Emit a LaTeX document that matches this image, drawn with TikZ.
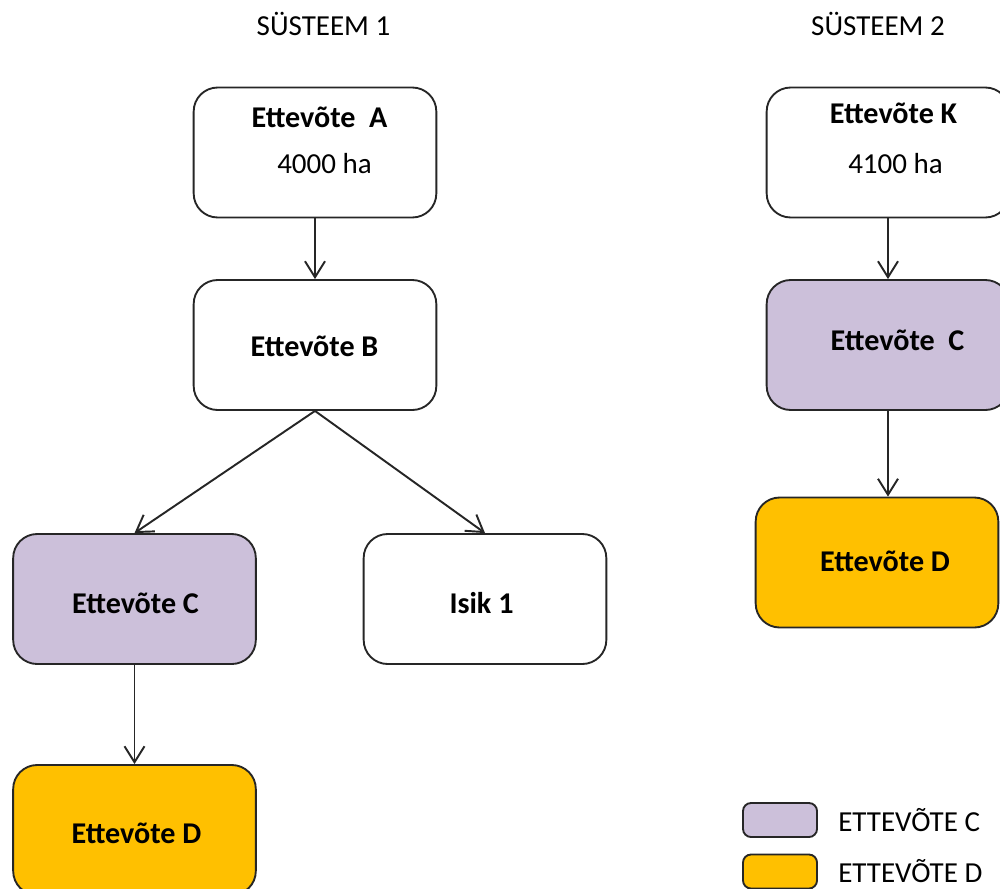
\documentclass[tikz,border=0pt]{standalone}
\usepackage{fontspec}
\setmainfont{Carlito}
\usetikzlibrary{arrows.meta}
\definecolor{lav}{HTML}{CCC0DA}
\definecolor{gold}{HTML}{FFC000}
\definecolor{edge}{HTML}{262626}
\begin{document}
\begin{tikzpicture}[x=0.75pt,y=-0.75pt,
  every node/.style={font=\fontsize{21.75pt}{26pt}\selectfont},
  box/.style={draw=edge, line width=1.4pt, rounded corners=18pt, minimum width=182pt, minimum height=97.5pt, inner sep=0pt},
  legbox/.style={draw=edge, line width=1.4pt, rounded corners=6pt, minimum width=55.5pt, minimum height=25.5pt, inner sep=0pt},
  txt/.style={anchor=base, inner sep=0pt},
  btxt/.style={anchor=base, inner sep=0pt, font=\fontsize{22.6pt}{27pt}\selectfont\bfseries},
  conn/.style={draw=edge, line width=1.45pt, -{Straight Barb[length=12pt,width=15pt,line width=1.45pt]}}]
\clip (0,0) rectangle (1000,889);
% titles
\node[txt] (t1) at (323.5,35) {SÜSTEEM 1};
\node[txt] (t2) at (878,35) {SÜSTEEM 2};
% system 1
\node[box, fill=white] (A) at (315,152.5) {};
\node[btxt] (Al) at (319.5,127) {Ettevõte\ \ A};
\node[txt] (Ah) at (324.5,173) {4000 ha};
\node[box, fill=white] (B) at (315,345) {};
\node[btxt] (Bl) at (314.5,356) {Ettevõte B};
\node[box, fill=lav] (C) at (134.5,599) {};
\node[btxt] (Cl) at (135.5,613) {Ettevõte C};
\node[box, fill=white] (I) at (485,599) {};
\node[btxt] (Il) at (481.5,613) {Isik 1};
\node[box, fill=gold] (D) at (134.5,830) {};
\node[btxt] (Dl) at (136.5,843) {Ettevõte D};
\draw[conn] (A.south) -- (B.north);
\draw[conn] (B.south) -- (C.north);
\draw[conn] (B.south) -- (I.north);
\draw[conn] (C.south) -- (D.north);
% system 2
\node[box, fill=white] (K) at (888,152.5) {};
\node[btxt] (Kl) at (893.5,123) {Ettevõte K};
\node[txt] (Kh) at (895.5,173) {4100 ha};
\node[box, fill=lav] (C2) at (888,345) {};
\node[btxt] (C2l) at (897.5,350) {Ettevõte\ \ C};
\node[box, fill=gold] (D2) at (877,562.5) {};
\node[btxt] (D2l) at (885,571) {Ettevõte D};
\draw[conn] (K.south) -- (C2.north);
\draw[conn] (C2.south) -- (C2.south |- D2.north);
% legend
\node[legbox, fill=lav] (L1) at (780,820) {};
\node[txt, anchor=base west] (L1t) at (838,831) {ETTEVÕTE C};
\node[legbox, fill=gold] (L2) at (780,871.5) {};
\node[txt, anchor=base west] (L2t) at (838,882) {ETTEVÕTE D};
\end{tikzpicture}
\end{document}
